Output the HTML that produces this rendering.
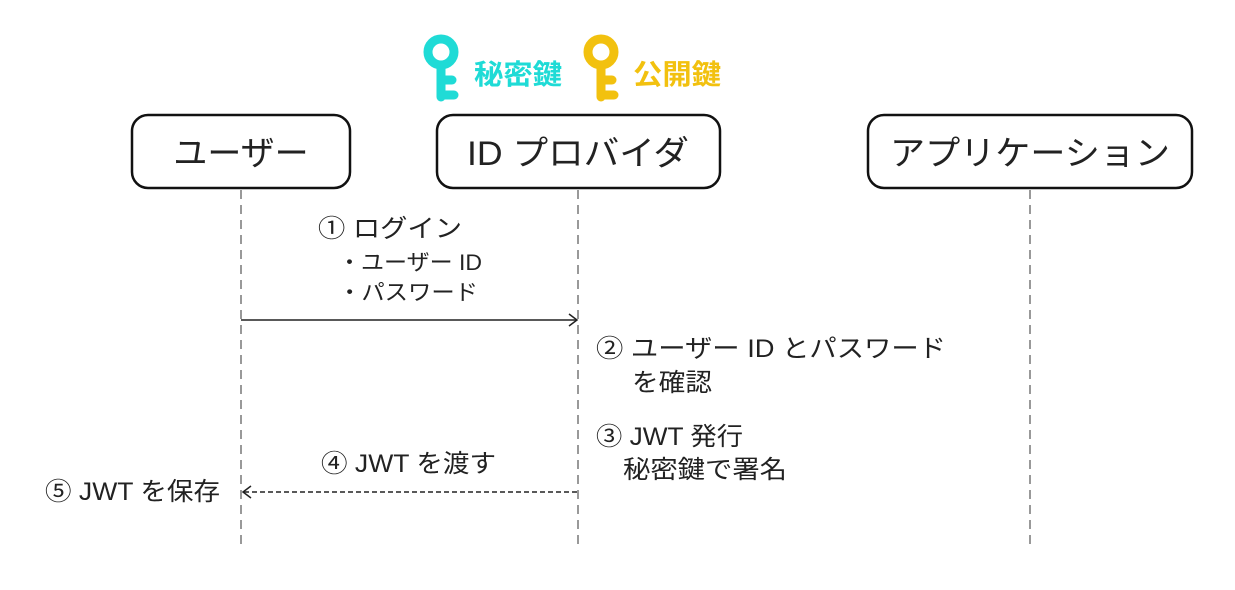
<!DOCTYPE html>
<html><head><meta charset="utf-8"><style>
html,body{margin:0;padding:0;background:#fff;}
svg{display:block;}
text{font-family:"Liberation Sans","Noto Sans CJK JP",sans-serif;fill:#222;}
</style></head><body>
<svg width="1235" height="590" viewBox="0 0 1235 590" xmlns="http://www.w3.org/2000/svg">
<rect width="1235" height="590" fill="#fff"/>
<!-- keys -->
<g stroke="#1fdbd6" stroke-width="9" fill="none" stroke-linecap="round">
<circle cx="441" cy="52" r="13"/>
<line x1="441" y1="66" x2="441" y2="97"/>
<line x1="441" y1="80" x2="452" y2="80"/>
<line x1="441" y1="95" x2="454" y2="95"/>
</g>
<text x="474" y="84" font-size="28" font-weight="bold" style="fill:#1fdbd6" textLength="88" lengthAdjust="spacingAndGlyphs">秘密鍵</text>
<g stroke="#f2c10f" stroke-width="9" fill="none" stroke-linecap="round">
<circle cx="601" cy="52" r="13"/>
<line x1="601" y1="66" x2="601" y2="97"/>
<line x1="601" y1="80" x2="612" y2="80"/>
<line x1="601" y1="95" x2="614" y2="95"/>
</g>
<text x="633" y="84" font-size="28" font-weight="bold" style="fill:#f2c10f" textLength="88" lengthAdjust="spacingAndGlyphs">公開鍵</text>
<!-- boxes -->
<g fill="#fff" stroke="#111" stroke-width="2.5">
<rect x="132" y="115" width="218" height="73" rx="16"/>
<rect x="437" y="115" width="283" height="73" rx="16"/>
<rect x="868" y="115" width="324" height="73" rx="16"/>
</g>
<text x="241" y="165" font-size="34" text-anchor="middle">ユーザー</text>
<text x="578" y="165" font-size="34" text-anchor="middle" textLength="222" lengthAdjust="spacingAndGlyphs">ID プロバイダ</text>
<text x="1030" y="165" font-size="34" text-anchor="middle" textLength="280" lengthAdjust="spacingAndGlyphs">アプリケーション</text>
<!-- lifelines -->
<g stroke="#999" stroke-width="2" stroke-dasharray="9,6">
<line x1="241" y1="190" x2="241" y2="548"/>
<line x1="578" y1="190" x2="578" y2="548"/>
<line x1="1030" y1="190" x2="1030" y2="548"/>
</g>
<!-- arrows -->
<line x1="241" y1="320" x2="577" y2="320" stroke="#222" stroke-width="1.5"/>
<polyline points="569,314 577,320 569,326" fill="none" stroke="#222" stroke-width="1.5"/>
<line x1="577" y1="492" x2="244" y2="492" stroke="#222" stroke-width="1.5" stroke-dasharray="5,3"/>
<polyline points="251,486 243,492 251,498" fill="none" stroke="#222" stroke-width="1.5"/>
<!-- labels -->
<text x="318" y="237" font-size="25" textLength="144" lengthAdjust="spacingAndGlyphs">① ログイン</text>
<text x="338" y="270" font-size="22" textLength="144" lengthAdjust="spacingAndGlyphs">・ユーザー ID</text>
<text x="338" y="300" font-size="22" textLength="140" lengthAdjust="spacingAndGlyphs">・パスワード</text>
<text x="596" y="357" font-size="25" textLength="350" lengthAdjust="spacingAndGlyphs">② ユーザー ID とパスワード</text>
<text x="632" y="391" font-size="25" textLength="80" lengthAdjust="spacingAndGlyphs">を確認</text>
<text x="596" y="445" font-size="25" textLength="147" lengthAdjust="spacingAndGlyphs">③ JWT 発行</text>
<text x="623" y="478" font-size="25" textLength="164" lengthAdjust="spacingAndGlyphs">秘密鍵で署名</text>
<text x="321" y="472" font-size="25" textLength="175" lengthAdjust="spacingAndGlyphs">④ JWT を渡す</text>
<text x="45" y="500" font-size="25" textLength="175" lengthAdjust="spacingAndGlyphs">⑤ JWT を保存</text>
</svg>
</body></html>
